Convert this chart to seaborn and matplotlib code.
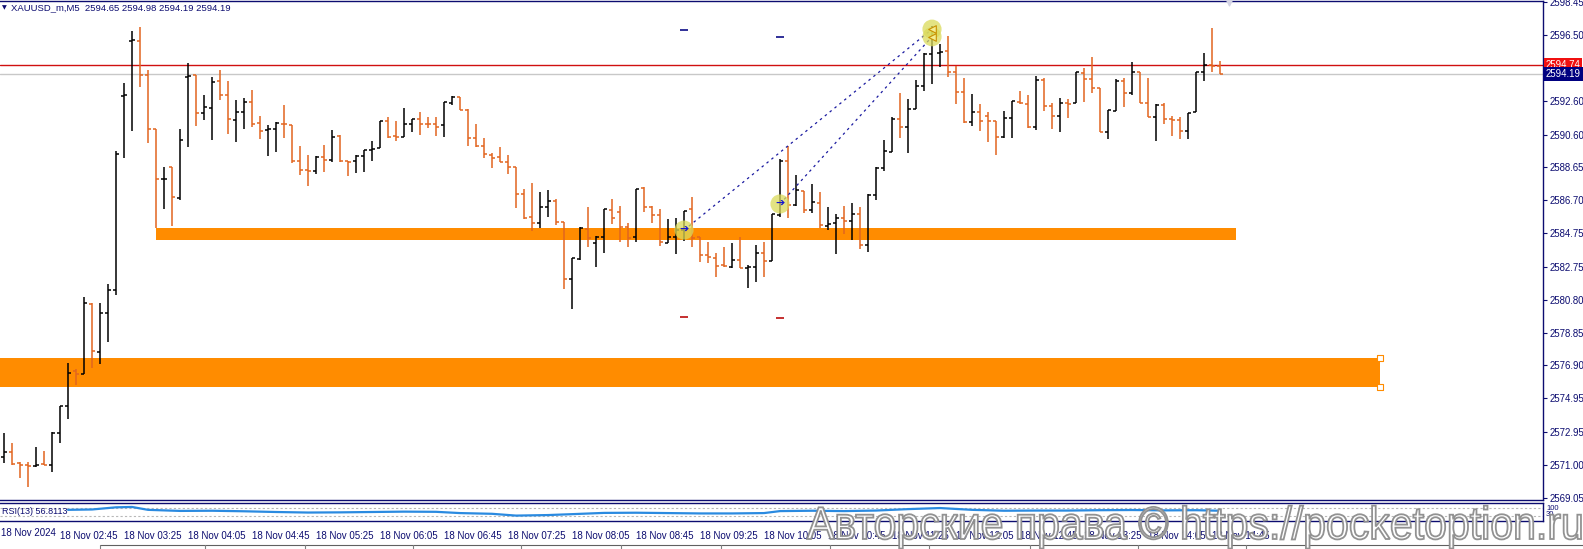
import pandas as pd
import matplotlib.pyplot as plt
from matplotlib.patches import Rectangle, PathPatch
from matplotlib.textpath import TextPath
from matplotlib.font_manager import FontProperties
from matplotlib.transforms import Affine2D
import seaborn as sns

# Figure size in pixels (dpi 100)
W, H = 1583, 549
NAVY = '#0c0c70'
UP_COLOR = '#000000'
DOWN_COLOR = '#e2651f'
ZONE_COLOR = '#ff8c00'

# ==========================================
# DATA: XAUUSD_m M5 bars
# ==========================================
opens = [2571.49, 2571.79, 2571.10, 2571.00, 2570.94, 2571.05, 2571.00, 2572.87, 2574.50, 2576.60,
         2576.39, 2580.53, 2577.72, 2580.00, 2581.40, 2592.88, 2596.16, 2596.16, 2594.13, 2590.92,
         2587.94, 2588.69, 2586.81, 2594.03, 2594.13, 2591.87, 2592.15, 2593.79, 2592.94, 2591.46,
         2591.91, 2592.51, 2591.26, 2590.87, 2590.92, 2591.22, 2591.16, 2589.03, 2588.49, 2588.43,
         2589.24, 2589.08, 2590.51, 2589.03, 2589.03, 2589.34, 2589.68, 2589.82, 2591.40, 2590.53,
         2590.43, 2591.20, 2591.52, 2591.22, 2591.20, 2591.16, 2592.45, 2592.80, 2592.05, 2590.41,
         2589.94, 2589.38, 2589.24, 2588.95, 2588.69, 2587.07, 2585.68, 2585.37, 2586.28, 2586.65,
         2585.41, 2582.03, 2583.19, 2584.99, 2584.14, 2584.54, 2586.12, 2586.02, 2585.13, 2584.50,
         2587.41, 2586.28, 2585.82, 2584.18, 2584.50, 2584.93, 2586.16, 2584.50, 2583.45, 2583.29,
         2582.86, 2582.76, 2583.16, 2582.70, 2582.72, 2583.55, 2583.12, 2585.82, 2589.05, 2586.42,
         2587.27, 2586.12, 2586.52, 2585.19, 2585.33, 2585.66, 2585.47, 2585.86, 2584.05, 2587.01,
         2588.59, 2589.58, 2591.50, 2591.06, 2592.09, 2593.47, 2595.37, 2595.41, 2595.55, 2594.32,
         2593.14, 2591.32, 2591.91, 2591.71, 2591.40, 2590.47, 2591.56, 2592.51, 2592.39, 2591.02,
         2593.83, 2592.29, 2591.70, 2592.45, 2592.45, 2594.23, 2593.87, 2593.38, 2590.73, 2592.01,
         2593.77, 2593.08, 2594.29, 2592.45, 2591.62, 2592.35, 2591.50, 2591.46, 2590.81, 2591.95,
         2594.33, 2594.72, 2594.65]

highs = [2572.87, 2572.28, 2571.20, 2571.20, 2572.08, 2571.85, 2572.93, 2574.52, 2577.03, 2576.69,
         2580.98, 2580.58, 2580.62, 2581.73, 2589.62, 2593.67, 2596.74, 2597.00, 2594.42, 2590.92,
         2588.69, 2588.69, 2590.92, 2594.86, 2594.13, 2592.94, 2594.03, 2594.42, 2593.79, 2592.64,
         2592.74, 2593.24, 2591.70, 2591.16, 2591.36, 2592.35, 2591.16, 2589.92, 2589.38, 2589.34,
         2589.97, 2590.86, 2590.57, 2589.03, 2589.38, 2589.68, 2590.21, 2591.40, 2591.62, 2591.40,
         2592.15, 2591.52, 2591.91, 2591.62, 2591.62, 2592.50, 2592.88, 2592.80, 2592.11, 2591.22,
         2590.41, 2589.48, 2589.88, 2589.38, 2588.69, 2587.37, 2587.70, 2587.21, 2587.31, 2586.75,
         2585.41, 2583.25, 2585.13, 2586.28, 2584.60, 2586.18, 2586.75, 2586.36, 2585.33, 2587.35,
         2587.50, 2586.36, 2586.16, 2585.57, 2585.63, 2586.06, 2586.87, 2584.54, 2584.20, 2583.55,
         2583.91, 2584.14, 2584.50, 2582.86, 2584.04, 2584.20, 2585.86, 2589.13, 2589.92, 2588.20,
         2587.27, 2587.64, 2587.21, 2586.28, 2585.86, 2586.36, 2586.52, 2586.32, 2587.05, 2588.69,
         2590.27, 2591.66, 2593.04, 2592.70, 2593.83, 2595.41, 2597.05, 2595.94, 2596.46, 2594.68,
         2593.97, 2592.98, 2592.39, 2591.91, 2591.40, 2591.99, 2592.59, 2593.18, 2592.94, 2594.07,
         2593.97, 2592.45, 2592.74, 2592.68, 2594.29, 2594.56, 2595.21, 2593.38, 2592.05, 2593.87,
         2593.97, 2594.88, 2594.29, 2593.97, 2592.39, 2592.45, 2591.70, 2591.62, 2591.85, 2594.29,
         2595.41, 2596.93, 2594.98]

lows = [2571.13, 2571.00, 2570.20, 2569.67, 2570.90, 2571.00, 2570.60, 2572.32, 2573.70, 2575.74,
        2576.37, 2576.73, 2576.97, 2578.30, 2581.08, 2589.18, 2590.83, 2593.40, 2590.11, 2585.03,
        2586.16, 2585.19, 2586.71, 2589.84, 2591.10, 2591.44, 2590.27, 2592.64, 2590.63, 2590.17,
        2590.92, 2591.06, 2590.33, 2589.32, 2589.58, 2590.41, 2588.89, 2588.20, 2587.56, 2588.24,
        2588.39, 2588.95, 2588.95, 2588.15, 2588.34, 2588.39, 2589.05, 2589.82, 2590.37, 2590.23,
        2590.43, 2590.77, 2590.57, 2591.00, 2590.53, 2590.47, 2592.35, 2592.05, 2589.94, 2589.88,
        2589.18, 2588.63, 2588.95, 2588.24, 2586.26, 2585.57, 2584.89, 2585.07, 2585.72, 2585.23,
        2581.42, 2580.23, 2583.15, 2583.94, 2582.76, 2583.55, 2585.29, 2584.20, 2583.91, 2584.20,
        2586.02, 2585.33, 2584.00, 2584.14, 2583.49, 2584.28, 2583.91, 2583.02, 2582.96, 2582.17,
        2582.76, 2582.66, 2582.66, 2581.47, 2581.83, 2582.17, 2583.12, 2585.69, 2585.63, 2586.38,
        2585.96, 2585.92, 2585.07, 2584.93, 2583.49, 2584.67, 2584.34, 2583.81, 2583.61, 2586.71,
        2588.43, 2589.58, 2590.37, 2589.48, 2592.09, 2593.18, 2593.57, 2594.62, 2594.03, 2592.39,
        2591.30, 2591.12, 2590.83, 2590.13, 2589.38, 2590.41, 2590.41, 2592.39, 2591.00, 2590.86,
        2592.01, 2590.90, 2590.77, 2591.60, 2592.45, 2592.55, 2593.08, 2590.73, 2590.31, 2591.99,
        2592.21, 2592.94, 2592.45, 2591.62, 2590.23, 2591.20, 2590.53, 2590.31, 2590.31, 2591.95,
        2593.79, 2594.33, 2594.19]

closes = [2571.79, 2571.04, 2571.00, 2570.95, 2571.00, 2571.00, 2572.87, 2574.50, 2576.47, 2576.40,
          2580.58, 2577.76, 2580.00, 2581.38, 2589.42, 2592.95, 2596.20, 2594.13, 2590.92, 2587.94,
          2587.98, 2586.87, 2590.27, 2594.07, 2591.85, 2592.23, 2593.69, 2592.94, 2591.50, 2591.91,
          2592.51, 2591.20, 2590.80, 2590.90, 2591.26, 2591.20, 2589.03, 2588.49, 2588.43, 2589.28,
          2589.08, 2590.43, 2589.03, 2588.99, 2589.34, 2589.68, 2589.72, 2591.40, 2590.47, 2590.47,
          2591.20, 2591.52, 2591.20, 2591.20, 2591.06, 2592.50, 2592.80, 2592.05, 2590.41, 2589.94,
          2589.42, 2589.22, 2588.95, 2588.69, 2587.07, 2585.63, 2585.37, 2586.32, 2586.65, 2585.41,
          2582.03, 2583.25, 2585.03, 2584.48, 2584.54, 2586.18, 2585.63, 2585.13, 2584.44, 2587.35,
          2586.28, 2585.82, 2584.20, 2584.54, 2584.93, 2586.06, 2584.44, 2583.45, 2583.31, 2582.82,
          2582.80, 2583.16, 2582.70, 2582.72, 2583.55, 2583.12, 2585.86, 2589.05, 2586.42, 2587.31,
          2586.12, 2586.57, 2585.23, 2585.27, 2585.66, 2585.47, 2585.86, 2584.05, 2587.01, 2588.63,
          2589.62, 2591.50, 2591.02, 2592.09, 2593.47, 2595.35, 2596.26, 2595.51, 2594.32, 2593.14,
          2591.32, 2591.95, 2591.40, 2591.40, 2590.47, 2591.56, 2592.59, 2592.45, 2591.02, 2593.83,
          2592.29, 2591.70, 2592.45, 2592.43, 2594.29, 2593.87, 2593.38, 2590.73, 2592.05, 2593.77,
          2593.04, 2594.29, 2592.45, 2591.62, 2592.35, 2591.50, 2591.46, 2590.83, 2591.85, 2594.29,
          2594.72, 2594.68, 2594.19]

time_labels = ['18 Nov 02:45', '18 Nov 03:25', '18 Nov 04:05', '18 Nov 04:45', '18 Nov 05:25',
               '18 Nov 06:05', '18 Nov 06:45', '18 Nov 07:25', '18 Nov 08:05', '18 Nov 08:45',
               '18 Nov 09:25', '18 Nov 10:05', '18 Nov 10:45', '18 Nov 11:25', '18 Nov 12:05',
               '18 Nov 12:45', '18 Nov 13:25', '18 Nov 14:05', '18 Nov 14:45']
first_label_bar = 7      # bar of 02:45
bars_per_label = 8       # 40 minutes of M5 bars

price_ticks = [2598.45, 2596.50, 2592.60, 2590.60, 2588.65, 2586.70, 2584.75, 2582.75,
               2580.80, 2578.85, 2576.90, 2574.95, 2572.95, 2571.00, 2569.05]

# RSI(13) line, sampled from the sub window
rsi_bars = [8, 11, 14, 16, 18, 22, 26, 30, 34, 38, 42, 46, 50, 54, 57, 61, 64, 68, 71, 75,
            79, 83, 87, 91, 95, 97, 101, 105, 109, 113, 117, 121, 125, 129, 133, 137, 141, 145, 149, 152]
rsi_vals = [62, 64, 76, 78, 62, 56, 57, 54, 50, 47, 48, 50, 52, 51, 44, 40, 30, 33, 38, 45,
            46, 44, 42, 42, 44, 55, 57, 55, 58, 66, 72, 62, 57, 58, 58, 60, 61, 59, 60, 57]

# support/resistance rectangles (bar range + price range)
zone_start = [19, -2]
zone_end = [154, 172]
zone_low = [2584.34, 2575.64]
zone_high = [2585.07, 2577.36]

# trades: entry -> exit, with TP / SL marks
entry_bar = [85, 97]
entry_price = [2584.93, 2586.48]
exit_bar = [116, 116]
exit_price = [2596.85, 2596.40]
tp_price = [2596.80, 2596.38]
sl_price = [2579.75, 2579.69]

ask_price = 2594.74
bid_price = 2594.19

PRICE_MIN, PRICE_MAX = 2568.92, 2598.52
X_MIN, X_MAX = -0.5, 192.375

df = pd.DataFrame({'open': opens, 'high': highs, 'low': lows, 'close': closes})
df['bar'] = range(len(df))
df['color'] = [UP_COLOR if c >= o else DOWN_COLOR for o, c in zip(df['open'], df['close'])]

sns.set_theme(style='white')
plt.rcParams['font.family'] = ['Liberation Sans', 'DejaVu Sans']


def px_rect(x0, y0, x1, y1):
    return [x0 / W, 1 - y1 / H, (x1 - x0) / W, (y1 - y0) / H]


fig = plt.figure(figsize=(W / 100, H / 100), dpi=100)
fig.patch.set_facecolor('white')

# ==========================================
# MAIN PRICE WINDOW
# ==========================================
ax = fig.add_axes(px_rect(0, 1, 1543, 500))
ax.set_facecolor('white')
ax.set_xlim(X_MIN, X_MAX)
ax.set_ylim(PRICE_MIN, PRICE_MAX)

for s, e, lo, hi in zip(zone_start, zone_end, zone_low, zone_high):
    ax.add_patch(Rectangle((s, lo), e - s, hi - lo, facecolor=ZONE_COLOR, edgecolor='none', zorder=1))
# anchor handles of the selected lower zone
ax.scatter([zone_end[1], zone_end[1]], [zone_low[1], zone_high[1]], marker='s', s=14,
           facecolor='white', edgecolor=ZONE_COLOR, linewidth=0.8, zorder=2, clip_on=False)

ax.axhline(bid_price, color='#c8c8c8', lw=1.0, zorder=1.5)
ax.axhline(ask_price, color='#d01010', lw=1.0, zorder=1.5)

# OHLC bars
ax.vlines(df['bar'], df['low'], df['high'], colors=df['color'], lw=1.1, zorder=3)
ax.hlines(df['open'], df['bar'] - 0.375, df['bar'], colors=df['color'], lw=1.1, zorder=3)
ax.hlines(df['close'], df['bar'], df['bar'] + 0.375, colors=df['color'], lw=1.1, zorder=3)

# trades
for eb, ep, xb, xp in zip(entry_bar, entry_price, exit_bar, exit_price):
    ax.plot([eb, xb], [ep, xp], color='#1a1aa0', lw=0.9, ls=(0, (2, 3)), zorder=4)
ax.scatter(entry_bar + exit_bar, entry_price + exit_price, s=190, color='#dada5a', alpha=0.75,
           edgecolor='none', zorder=4)
for eb, ep in zip(entry_bar, entry_price):
    ax.text(eb, ep, '\u2794', color='#1515d0', fontsize=8, ha='center', va='center',
            family='DejaVu Sans', zorder=5)
ax.scatter(exit_bar, exit_price, marker='<', s=30, facecolor='#f4ec90', edgecolor='#c89000',
           linewidth=0.8, zorder=5)
ax.hlines(tp_price, [b - 0.45 for b in entry_bar], [b + 0.45 for b in entry_bar],
          color='#202090', lw=1.3, zorder=4)
ax.hlines(sl_price, [b - 0.45 for b in entry_bar], [b + 0.45 for b in entry_bar],
          color='#c02020', lw=1.3, zorder=4)

# chart shift marker
ax.scatter([len(df) + 0.1], [PRICE_MAX], marker='v', s=40, color='#d4d4e4', zorder=5, clip_on=False)

# price axis on the right
ax.yaxis.tick_right()
ax.set_yticks(price_ticks)
ax.set_yticklabels([f'{p:.2f}' for p in price_ticks])
ax.tick_params(axis='y', direction='out', length=3, width=0.8, color=NAVY, labelcolor=NAVY,
               labelsize=6.9, pad=1.5)
ax.set_xticks([])
for side in ['top', 'right', 'bottom']:
    ax.spines[side].set_color(NAVY)
    ax.spines[side].set_linewidth(1.0)
ax.spines['left'].set_visible(False)

tag_tf = ax.get_yaxis_transform()
ax.text(1.0015, ask_price, f'{ask_price:.2f}', transform=tag_tf, ha='left', va='center',
        color='white', fontsize=6.9, zorder=6, clip_on=False,
        bbox=dict(facecolor='#f01010', edgecolor='none', pad=1.2))
ax.text(1.0015, bid_price, f'{bid_price:.2f}', transform=tag_tf, ha='left', va='center',
        color='white', fontsize=6.9, zorder=6, clip_on=False,
        bbox=dict(facecolor='#000080', edgecolor='none', pad=1.6))

# header
fig.text(2 / W, 1 - 8 / H, '\u25bc', color=NAVY, fontsize=4.5, va='center', family='DejaVu Sans')
fig.text(11 / W, 1 - 8 / H,
         f'XAUUSD_m,M5  {opens[-1]:.2f} {highs[-1]:.2f} {lows[-1]:.2f} {closes[-1]:.2f}',
         color=NAVY, fontsize=6.8, va='center')

# ==========================================
# RSI SUB WINDOW
# ==========================================
ax_rsi = fig.add_axes(px_rect(0, 503, 1543, 521))
ax_rsi.set_facecolor('white')
ax_rsi.set_xlim(X_MIN, X_MAX)
ax_rsi.set_ylim(0, 100)
for lvl in [30, 70]:
    ax_rsi.axhline(lvl, color='#b8b8b8', lw=0.8, ls=(0, (2, 2)))
sns.lineplot(x=rsi_bars, y=rsi_vals, ax=ax_rsi, color='#2a8ae0', lw=1.6)
ax_rsi.set_yticks([])
ax_rsi.set_ylabel('')
tick_pos = [first_label_bar + bars_per_label * k for k in range(len(time_labels))]
ax_rsi.set_xticks(tick_pos)
ax_rsi.set_xticklabels(time_labels)
for lbl in ax_rsi.get_xticklabels():
    lbl.set_ha('left')
ax_rsi.tick_params(axis='x', direction='out', length=4, width=0.8, color=NAVY, labelcolor=NAVY,
                   labelsize=7, pad=3)
for side in ['top', 'right', 'bottom']:
    ax_rsi.spines[side].set_color(NAVY)
    ax_rsi.spines[side].set_linewidth(1.0)
ax_rsi.spines['left'].set_visible(False)
ax_rsi.text(0.001, 0.5, 'RSI(13) 56.8113', transform=ax_rsi.transAxes, color=NAVY, fontsize=6.5,
            va='center', ha='left')
fig.text(1546 / W, 1 - 508 / H, '100', color=NAVY, fontsize=5.5, va='center')
fig.text(1546 / W, 1 - 515 / H, '30', color=NAVY, fontsize=5.5, va='center')
fig.text(1 / W, 1 - 533 / H, '18 Nov 2024', color=NAVY, fontsize=7, va='center')

# bottom tab strip
tab_edges = [100, 205, 305, 413, 521, 621, 721, 830, 929, 1030, 1138, 1246]
fig.add_artist(plt.Line2D([100 / W, 1], [1 - 545 / H, 1 - 545 / H], color='#606060', lw=0.8))
for tx in tab_edges:
    fig.add_artist(plt.Line2D([tx / W, tx / W], [0, 1 - 545 / H], color='#808080', lw=0.8))

# watermark: outlined text, squeezed a little horizontally like the screenshot
wm_path = TextPath((0, 0), 'Авторские права © https://pocketoption.ru', size=46,
                   prop=FontProperties(family='Liberation Sans'))
wm_width = wm_path.get_extents().width
wm_tf = Affine2D().scale(774 / wm_width / W, 1 / H).translate(807 / W, 10 / H) + fig.transFigure
fig.add_artist(PathPatch(wm_path, transform=wm_tf, facecolor='white', edgecolor='#8c8c8c',
                         lw=1.3, alpha=0.95, zorder=10))

fig.savefig('out.png', dpi=100, facecolor='white')
plt.close(fig)
